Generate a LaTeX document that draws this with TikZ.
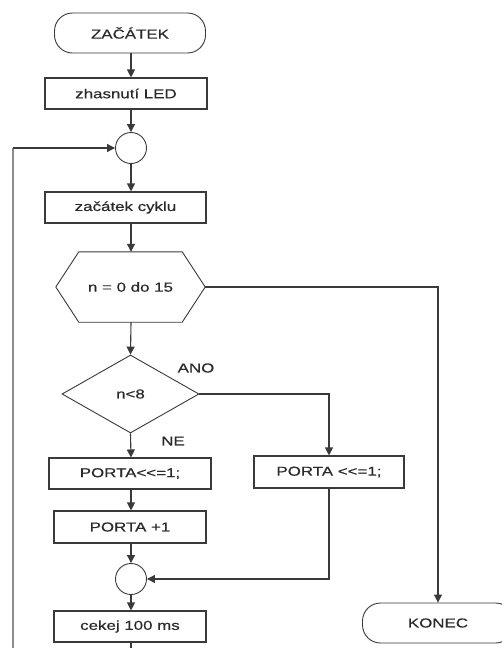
\documentclass[tikz,border=0pt]{standalone}
\usepackage{fontspec}
\setmainfont{Liberation Sans}[FakeStretch=1.3,FakeBold=0.4]
\usetikzlibrary{shapes.geometric,arrows.meta,calc}
\definecolor{ink}{HTML}{2A2A2A}
\definecolor{wire}{HTML}{3A3A3A}
\definecolor{loopwire}{HTML}{8C8C8C}
\tikzset{
  every node/.style={font=\fontsize{13}{15}\selectfont, text=ink},
  stepbox/.style={draw=wire, line width=1.1pt, rectangle, inner sep=0pt, minimum height=31pt},
  terminal/.style={draw=wire, line width=0.9pt, rectangle, rounded corners=18pt, inner sep=0pt, minimum width=151pt, minimum height=40pt},
  joint/.style={draw=wire, line width=0.9pt, circle, inner sep=0pt, minimum size=31pt},
  decision/.style={draw=wire, line width=0.9pt, diamond, inner sep=0pt, minimum width=137pt, minimum height=78pt, aspect=1.76},
  flow/.style={draw=wire, line width=1.1pt, -{Triangle[length=8pt,width=8pt]}},
  plain/.style={draw=wire, line width=1.1pt},
  lbl/.style={inner sep=0pt}
}
\begin{document}
\begin{tikzpicture}[x=1pt,y=-1pt]
  \clip (0,0) rectangle (502,648);
  \fill[white] (0,0) rectangle (502,648);

  % main column
  \node[terminal] (start) at (130,33) {ZAČÁTEK};
  \node[stepbox, minimum width=162pt] (led) at (126,93.5) {zhasnutí LED};
  \node[joint] (j1) at (131,148) {};
  \node[stepbox, minimum width=161pt] (cyc) at (125.5,207.5) {začátek cyklu};

  % loop header (hexagon)
  \node[inner sep=0pt, minimum width=149pt, minimum height=70pt] (loop) at (130.5,287) {n = 0 do 15};
  \draw[wire, line width=0.9pt] (loop.west) -- ($(loop.north west)+(23,0)$) -- ($(loop.north east)+(-23,0)$)
     -- (loop.east) -- ($(loop.south east)+(-23,0)$) -- ($(loop.south west)+(23,0)$) -- cycle;

  \node[decision] (dec) at (130.5,394) {n<8};
  \node[lbl] (ano) at (196,368) {ANO};
  \node[lbl] (ne) at (173,441) {NE};

  \node[stepbox, minimum width=162pt] (shl) at (130,473.5) {PORTA<{}<=1;};
  \node[stepbox, minimum width=150pt, minimum height=32pt] (shr) at (329,472) {PORTA <{}<=1;};
  \node[stepbox, minimum width=152pt, minimum height=32pt] (inc) at (130,527) {PORTA +1};
  \node[joint] (j2) at (131,579) {};
  \node[stepbox, minimum width=152pt] (wait) at (130,626.5) {cekej 100 ms};

  \node[terminal] (end) at (438,623) {KONEC};

  % bottom of the loop and the return path
  \coordinate (loopbase) at (131,670);
  \coordinate (loopleft) at (13,670);

  % connectors
  \draw[flow] (start.south -| j1) -- (led.north -| j1);
  \draw[flow] (led.south -| j1) -- (j1.north);
  \draw[flow] (j1.south) -- (cyc.north -| j1);
  \draw[flow] (cyc.south -| j1) -- (loop.north -| j1);
  \draw[flow] (loop.south -| j1) -- (dec.north);
  \draw[flow] (dec.south) -- (shl.north -| j1);
  \draw[flow] (dec.east) -| (shr.north);
  \draw[flow] (shl.south -| j1) -- (inc.north -| j1);
  \draw[flow] (inc.south -| j1) -- (j2.north);
  \draw[flow] (shr.south) |- (j2.east);
  \draw[flow] (j2.south) -- (wait.north -| j1);
  \draw[flow] (loop.east) -| (end.north);
  \draw[plain] (wait.south -| j1) -- (loopbase);
  \draw[plain, draw=loopwire] (loopbase) -- (loopleft) -- (loopleft |- j1);
  \draw[flow] (loopleft |- j1) -- (j1.west);
\end{tikzpicture}
\end{document}
